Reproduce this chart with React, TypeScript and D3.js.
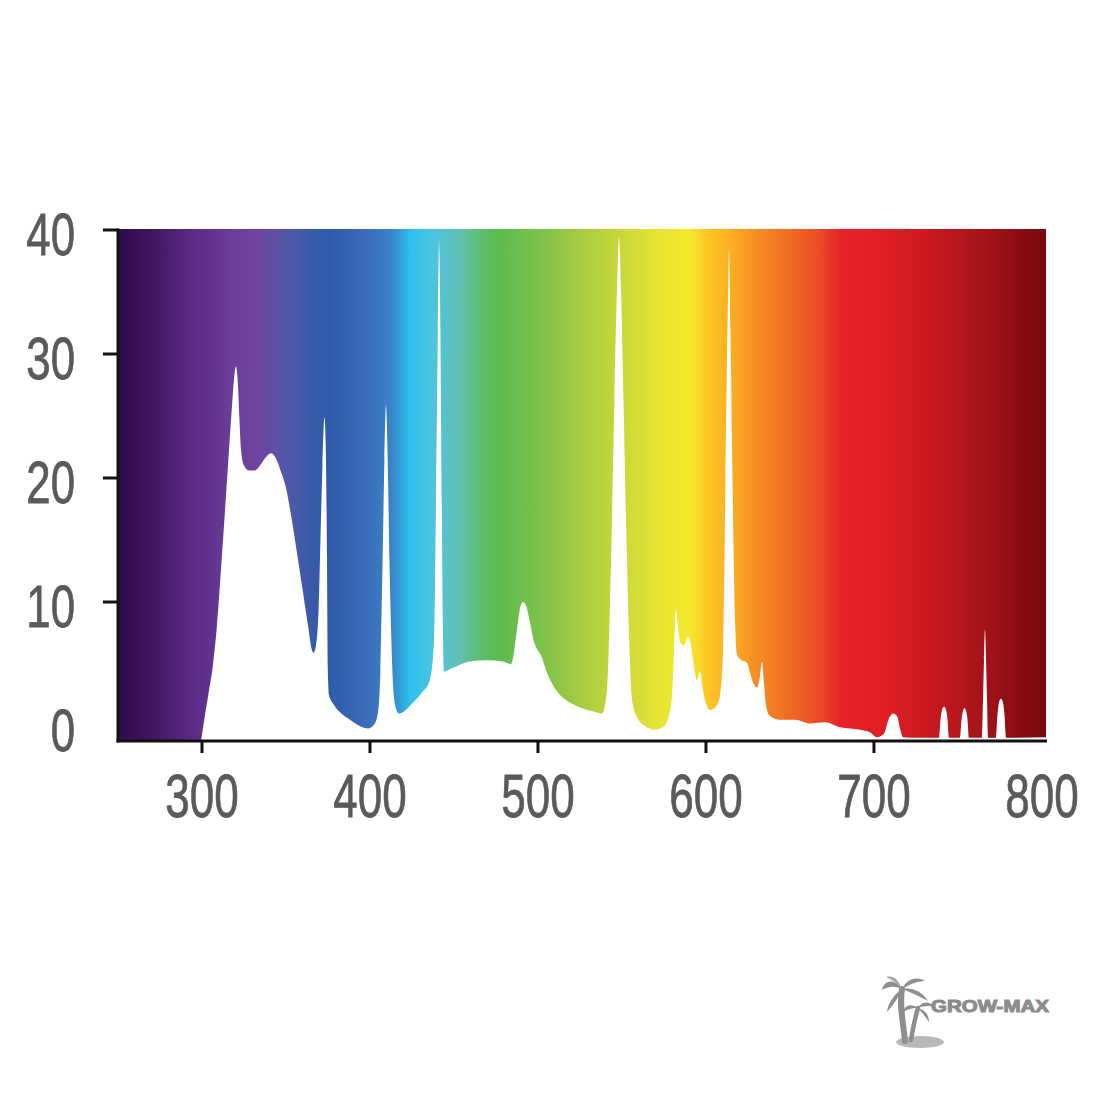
import * as d3 from 'd3';

// spectral output (nm / relative intensity)
const wavelength = [
  299.4, 301.8, 304.2, 306.5, 308.9, 311.3, 313.7, 316.1, 317.9, 319.0, 320.2, 321.4, 322.3, 323.2, 325.0,
  328.0, 331.5, 334.5, 337.5, 341.1, 344.0, 347.0, 350.0, 353.0, 356.5, 360.1, 363.1, 365.5, 366.3,
  367.9, 369.4, 370.5, 371.7, 372.9, 373.8, 374.4, 374.9, 375.6, 378.6, 382.1, 388.1, 394.0, 398.8, 402.4, 404.8,
  406.2, 407.4, 408.6, 409.5, 410.4, 411.6, 413.1, 414.9, 417.3, 425.6, 431.0, 435.7,
  438.1, 439.3, 440.4, 441.1, 441.9, 442.7, 443.5, 444.0,
  449.4, 459.5, 469.6, 479.2, 483.9, 486.3, 488.1, 489.9, 491.1, 492.9, 495.2, 497.6, 499.4, 501.8, 504.8,
  508.9, 513.1, 519.0, 525.0, 532.1, 538.1,
  541.1, 543.5, 545.5, 547.0, 548.2, 549.4, 550.9, 552.7, 554.5, 556.0, 559.0, 563.7, 569.6, 574.4, 577.9,
  579.8, 581.0, 582.1, 583.3, 584.5, 586.9, 589.3, 591.1, 592.9, 594.6, 596.4, 598.2, 600.0, 602.4, 605.4, 608.3,
  610.1, 611.6, 612.8, 613.7, 614.6, 615.8, 617.3, 618.5, 621.4, 624.4, 626.2, 628.0, 630.4, 632.1, 633.3, 634.5,
  635.7, 638.1, 644.0, 653.0, 661.9, 670.8, 679.8, 691.7, 697.6, 701.8, 706.0, 708.9, 711.3, 713.7, 715.5, 717.3,
  727.4, 738.7, 739.6, 740.5, 741.7, 742.9, 743.8, 744.6, 751.2, 752.1, 753.0, 753.9, 754.8, 755.7, 756.5,
  764.3, 764.9, 765.5, 766.1, 766.7, 767.3, 767.9, 772.6, 773.5, 774.4, 775.6, 776.8, 777.7, 778.6, 802.4,
];
const intensity = [
  -1.21, 0.9, 2.9, 4.9, 8.1, 12.6, 17.4, 22.3, 25.9, 27.9, 29.0, 27.5, 24.7, 22.3, 21.0,
  20.6, 20.6, 21.0, 21.6, 22.0, 21.6, 20.5, 19.2, 17.0, 14.0, 10.8, 8.1, 6.1, 5.9,
  6.5, 9.4, 15.0, 21.0, 24.9, 21.5, 13.4, 4.5, 2.5, 1.7, 1.1, 0.5, 0.0, -0.2, 0.1, 1.1,
  4.5, 12.6, 21.5, 25.9, 22.3, 13.4, 5.3, 1.7, 1.0, 1.9, 2.7, 3.7,
  6.9, 18.2, 31.9, 39.2, 31.9, 18.2, 6.9, 4.4,
  4.7, 5.2, 5.3, 5.2, 5.0, 6.5, 8.4, 9.8, 10.0, 9.7, 8.4, 6.8, 6.2, 5.7, 4.5,
  3.3, 2.5, 1.9, 1.5, 1.2, 1.0,
  2.9, 13.4, 26.3, 35.2, 39.4, 35.2, 26.3, 15.0, 6.1, 2.1, 0.7, 0.0, -0.3, -0.1, 0.8,
  2.5, 6.1, 9.4, 8.1, 6.8, 6.5, 7.2, 6.5, 4.7, 3.7, 4.4, 2.9, 1.8, 1.3, 1.5, 2.4,
  6.1, 19.8, 31.9, 38.4, 31.9, 19.8, 8.5, 5.7, 5.3, 5.1, 4.3, 3.5, 3.1, 4.0, 5.2, 3.5,
  1.7, 0.8, 0.5, 0.5, 0.2, 0.3, -0.1, -0.3, -0.5, -0.9, -0.6, 0.6, 1.0, 0.8, -0.2, -0.9,
  -0.95, -0.95, 0.5, 1.3, 1.55, 1.3, 0.5, -0.95, -0.95, 0.5, 1.2, 1.45, 1.2, 0.5, -0.95,
  -0.95, 2.1, 5.3, 7.8, 5.3, 2.1, -0.95, -0.95, 0.9, 1.9, 2.2, 1.9, 0.9, -0.95, -0.9,
];

const yTickLabels = [0, 10, 20, 30, 40];
const yTickMarks = [10, 20, 30, 40];
const xTickLabels = [300, 400, 500, 600, 700, 800];
const xTickMarks = [300, 400, 500, 600, 700];

// background colour band, keyed by wavelength
const bandWavelength = [250, 269, 293, 317, 334, 352, 364, 376, 394, 412, 424, 436, 442, 454, 465, 477, 501, 525, 549, 573, 590, 602, 614, 632, 650, 668, 680, 704, 733, 763, 787, 802.4];
const bandColor = [
  '#2e0a4a', '#401560', '#5a2a85', '#6a3d98', '#6e45a0', '#4d5aa8', '#3a5aa8', '#2f5aa8', '#3a6ab5', '#3a80c5',
  '#2cc0ee', '#4ac4e0', '#55c2d5', '#62c0b0', '#5cbe70', '#5cbb4e', '#7cc24a', '#a5cc42', '#cad839', '#e8e432',
  '#f4e82a', '#fcc424', '#fbb022', '#f48a22', '#ef6a24', '#ea4a25', '#e8222a', '#e01e25', '#c81a20', '#a81419',
  '#8a0c12', '#780810',
];

const W = 1100;
const H = 1100;
const left = 118;
const right = 1046;
const top = 230;
const bottom = 741;

const labelFont = '"Liberation Sans", Arial, sans-serif';
const labelColor = '#5a5a5a';

function Logo() {
  const g = '#8e8e8e';
  return (
    <g>
      <ellipse cx={920} cy={1042} rx={24} ry={6} fill="#b8b8b8" />
      <path d="M905,1041 C903,1020 899,1005 902,989" stroke={g} strokeWidth={6} fill="none" strokeLinecap="round" />
      <path d="M911,1040 C913,1028 915,1018 918,1008" stroke={g} strokeWidth={4.5} fill="none" strokeLinecap="round" />
      <path d="M902,989 C894,978 884,980 882,990 C891,985 897,987 902,989 Z" fill={g} />
      <path d="M902,989 C895,994 888,1002 887,1012 C895,1003 899,996 902,989 Z" fill={g} />
      <path d="M902,989 C907,979 916,976 925,981 C916,981 909,985 902,989 Z" fill={g} />
      <path d="M902,989 C911,987 922,991 928,1001 C919,996 910,992 902,989 Z" fill={g} />
      <path d="M902,989 C898,979 893,975 886,977 C893,980 898,984 902,989 Z" fill="#a5a5a5" />
      <path d="M918,1008 C911,1003 905,1005 902,1013 C909,1008 914,1008 918,1008 Z" fill={g} />
      <path d="M918,1008 C922,1001 929,1001 934,1006 C927,1006 922,1006 918,1008 Z" fill={g} />
      <path d="M918,1008 C925,1010 929,1015 929,1022 C924,1015 921,1011 918,1008 Z" fill={g} />
      <text x={931} y={1012} fontFamily={labelFont} fontWeight={700} fontSize={16.5}
        textLength={118} lengthAdjust="spacingAndGlyphs" fill="#8c8c8c" stroke="#8c8c8c" strokeWidth={1}>
        GROW-MAX
      </text>
    </g>
  );
}

export default function App() {
  const x = d3.scaleLinear().domain([250, 802.4]).range([left, right]);
  const y = d3.scaleLinear().domain([-1.21, 40]).range([bottom, top]);

  const area = d3.area<number>()
    .x((_, i) => x(wavelength[i]))
    .y0(bottom)
    .y1((d) => y(d))
    .curve(d3.curveMonotoneX);

  const span = right - left;

  return (
    <svg width={W} height={H} style={{ position: 'absolute', left: 0, top: 0, background: '#fff' }}>
      <defs>
        <linearGradient id="band" x1={left} x2={right} y1={0} y2={0} gradientUnits="userSpaceOnUse">
          {bandWavelength.map((wl, i) => (
            <stop key={wl} offset={(x(wl) - left) / span} stopColor={bandColor[i]} />
          ))}
        </linearGradient>
        <clipPath id="plot">
          <rect x={left} y={top - 1} width={span} height={bottom - top + 1} />
        </clipPath>
      </defs>

      <rect x={left} y={top - 1} width={span} height={bottom - top + 1} fill="url(#band)" />
      <path d={area(intensity) ?? ''} fill="#fff" clipPath="url(#plot)" />

      {/* axes */}
      <line x1={left} x2={left} y1={top - 1.5} y2={bottom + 1.5} stroke="#111" strokeWidth={3} />
      <line x1={left - 1.5} x2={right + 1} y1={bottom} y2={bottom} stroke="#111" strokeWidth={3} />
      {yTickMarks.map((v) => (
        <line key={v} x1={left - 15} x2={left} y1={y(v)} y2={y(v)} stroke="#111" strokeWidth={3} />
      ))}
      {xTickMarks.map((v) => (
        <line key={v} x1={x(v)} x2={x(v)} y1={bottom} y2={bottom + 12} stroke="#111" strokeWidth={3} />
      ))}

      {yTickLabels.map((v) => (
        <text key={v} transform={`translate(75,${y(v) + 25}) scale(0.73,1)`} textAnchor="end"
          fontFamily={labelFont} fontSize={60} fill={labelColor} stroke={labelColor} strokeWidth={0.8}>
          {v}
        </text>
      ))}
      {xTickLabels.map((v) => (
        <text key={v} transform={`translate(${x(v)},817) scale(0.71,1)`} textAnchor="middle"
          fontFamily={labelFont} fontSize={62} fill={labelColor} stroke={labelColor} strokeWidth={0.8}>
          {v}
        </text>
      ))}

      <Logo />
    </svg>
  );
}
